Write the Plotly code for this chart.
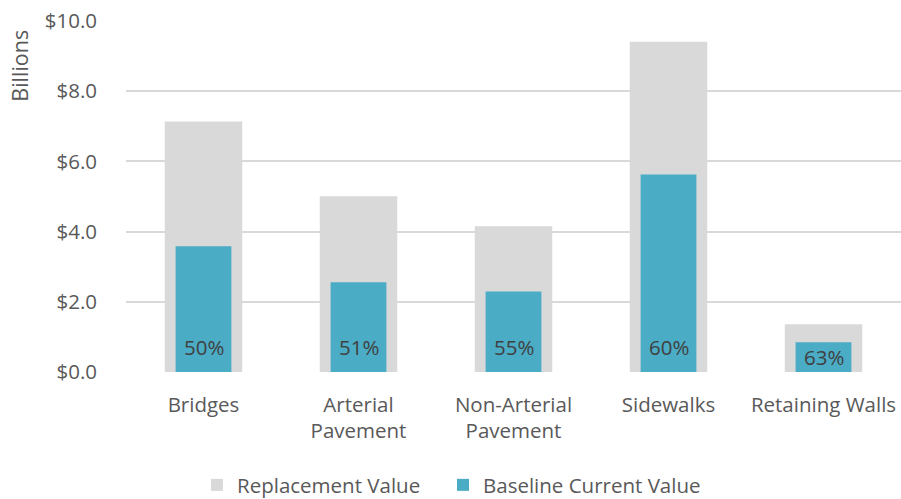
import plotly.graph_objects as go

categories = ["Bridges", "Arterial<br>Pavement", "Non-Arterial<br>Pavement", "Sidewalks", "Retaining Walls"]
replacement_value = [7.14, 5.01, 4.15, 9.41, 1.36]
current_value = [3.58, 2.56, 2.29, 5.63, 0.85]
pct_labels = ["50%", "51%", "55%", "60%", "63%"]
y_ticks = [0, 2, 4, 6, 8, 10]
y_tick_labels = ["$0.0", "$2.0", "$4.0", "$6.0", "$8.0", "$10.0"]

FONT = "Open Sans"
TXT = "#595959"
FS = 20.5

fig = go.Figure()
fig.add_trace(go.Bar(
    x=categories, y=replacement_value, name="Replacement Value",
    marker=dict(color="#D9D9D9", line=dict(width=0)), width=0.5,
    hoverinfo="skip", legend="legend",
))
fig.add_trace(go.Bar(
    x=categories, y=current_value, name="Baseline Current Value",
    marker=dict(color="#4BACC6", line=dict(width=0)), width=0.36,
    hoverinfo="skip", legend="legend2",
))

px_per_unit = 351.0 / 10.0
for c, v, t in zip(categories, current_value, pct_labels):
    fig.add_annotation(
        x=c, y=0, xref="x", yref="y", text=t, showarrow=False,
        yanchor="middle", yshift=min(25, v * px_per_unit / 2),
        font=dict(family=FONT, size=FS, color="#404040"),
    )

fig.add_annotation(
    xref="paper", yref="paper", x=-0.137, y=0.872, text="Billions",
    textangle=-90, showarrow=False, xanchor="center", yanchor="middle",
    font=dict(family=FONT, size=21.5, color=TXT),
)

leg_common = dict(
    orientation="h", xref="container", yref="container",
    y=0.028, xanchor="left", yanchor="middle",
    font=dict(family=FONT, size=FS, color=TXT), itemwidth=30,
    bgcolor="rgba(0,0,0,0)",
)

fig.update_layout(
    width=901, height=499,
    margin=dict(l=126, r=0, t=21, b=127),
    barmode="overlay",
    plot_bgcolor="white", paper_bgcolor="white",
    font=dict(family=FONT, size=FS, color=TXT),
    showlegend=True,
    legend=dict(x=197 / 901, **leg_common),
    legend2=dict(x=443 / 901, **leg_common),
    xaxis=dict(
        showgrid=False, showline=False, zeroline=False,
        tickfont=dict(family=FONT, size=FS, color=TXT),
        ticklabelstandoff=18,
    ),
    yaxis=dict(
        range=[0, 10], tickvals=y_ticks, ticktext=y_tick_labels,
        showgrid=True, gridcolor="#D9D9D9", gridwidth=1.5,
        zeroline=False, showline=False,
        tickfont=dict(family=FONT, size=FS, color=TXT),
        ticklabelstandoff=28,
    ),
)

fig.write_html("out.html")
